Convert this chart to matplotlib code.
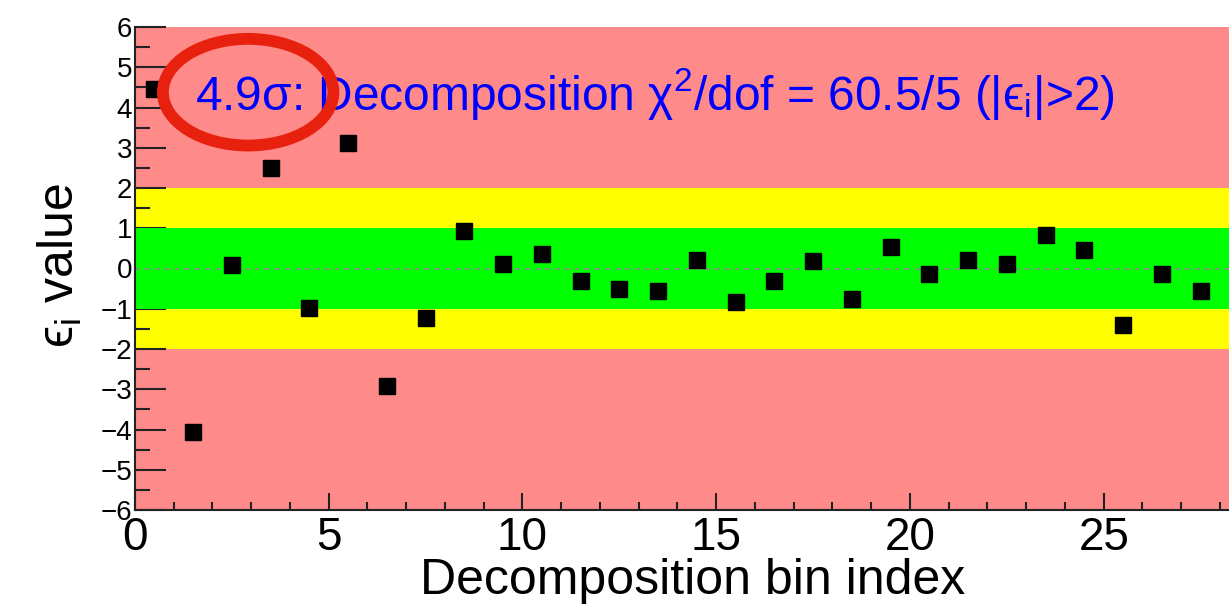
import numpy as np
import matplotlib
matplotlib.use("Agg")
import matplotlib.pyplot as plt
from matplotlib.patches import Ellipse
from matplotlib.ticker import MultipleLocator

plt.rcParams['font.family'] = ['Liberation Sans', 'DejaVu Sans']
plt.rcParams['mathtext.fontset'] = 'custom'
plt.rcParams['mathtext.rm'] = 'Liberation Sans'
plt.rcParams['mathtext.it'] = 'Liberation Sans:italic'

# data
bin_index = np.arange(28) + 0.5
eps_values = [4.47, -4.07, 0.08, 2.5, -0.97, 3.12, -2.92, -1.24, 0.93, 0.12,
              0.35, -0.3, -0.5, -0.55, 0.21, -0.83, -0.3, 0.18, -0.75, 0.54,
              -0.14, 0.22, 0.12, 0.82, 0.45, -1.4, -0.14, -0.57]
annotation = "4.9σ: Decomposition χ$^{2}$/dof = 60.5/5 (|ϵ$_{\\rm i}$|>2)"

fig = plt.figure(figsize=(12.29, 6.13), dpi=100)
ax = fig.add_axes([135 / 1229, 1 - 510 / 613, 1 - 135 / 1229 + 0.01, 483 / 613])

ax.axhspan(-6, 6, color='#ff8a8a', lw=0, zorder=0)
ax.axhspan(-2, 2, color='#ffff00', lw=0, zorder=1)
ax.axhspan(-1, 1, color='#00ff00', lw=0, zorder=2)
ax.axhline(0, color='#8c8c8c', ls=(0, (3, 3)), lw=1.2, zorder=3)

ax.plot(bin_index, eps_values, 's', color='black', ms=11.5, zorder=5)

ax.set_xlim(0, 28.55)
ax.set_ylim(-6, 6)

ax.xaxis.set_major_locator(MultipleLocator(5))
ax.xaxis.set_minor_locator(MultipleLocator(1))
ax.yaxis.set_major_locator(MultipleLocator(1))
ax.yaxis.set_minor_locator(MultipleLocator(0.5))
ax.tick_params(axis='x', which='major', direction='in', length=12, width=1.5,
               labelsize=33, pad=4, color='#222222')
ax.tick_params(axis='x', which='minor', direction='in', length=6, width=1.5,
               color='#222222')
ax.tick_params(axis='y', which='major', direction='in', length=22, width=1.5,
               labelsize=20, pad=2, color='#222222')
ax.tick_params(axis='y', which='minor', direction='in', length=11, width=1.5,
               color='#222222')
ax.set_yticks(np.arange(-6, 7))
ax.set_yticklabels([str(v).replace('-', '\u2212') for v in range(-6, 7)])

for s in ['top', 'right']:
    ax.spines[s].set_visible(False)
for s in ['left', 'bottom']:
    ax.spines[s].set_linewidth(1.5)
    ax.spines[s].set_color('#222222')
    ax.spines[s].set_zorder(6)

ax.set_xlabel("Decomposition bin index", fontsize=36)
ax.xaxis.set_label_coords(0.504, -0.1)
ax.xaxis.label.set_va('top')
ax.set_ylabel("ϵ$_{\\rm i}$ value", fontsize=36)
ax.yaxis.set_label_coords(-0.068, 0.507)
ax.yaxis.label.set_va('center')

ax.text(1.55, 3.94, annotation, color='#0000ff', fontsize=34.5, zorder=7)
ax.add_patch(Ellipse((2.92, 4.38), 4.4, 2.65, fill=False, ec='#e8210f',
                     lw=8.5, zorder=8))

fig.savefig("out.png", dpi=100)
